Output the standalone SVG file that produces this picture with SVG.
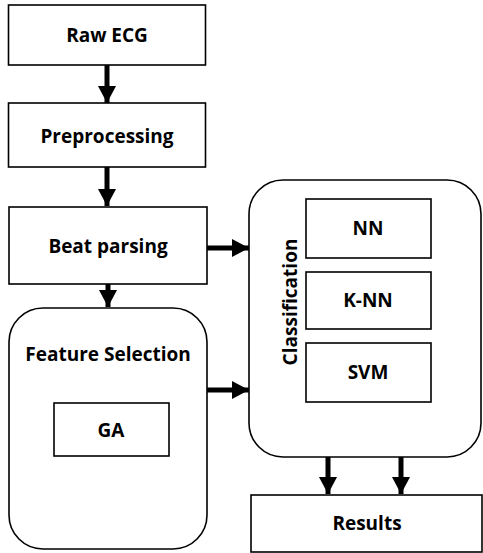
<svg xmlns="http://www.w3.org/2000/svg" width="483" height="553" viewBox="0 0 483 553">
<style>
.box{fill:#fff;stroke:#000;stroke-width:1.6}
.t{font-family:"Open Sans","Liberation Sans",sans-serif;font-weight:bold;font-size:19px;fill:#000;text-anchor:middle;dominant-baseline:central}
.c{stroke:#000;stroke-width:5;fill:none}
</style>
<defs>
<marker id="ah" markerUnits="userSpaceOnUse" markerWidth="18" markerHeight="18" refX="17" refY="9" orient="auto">
<path d="M0,0 L17,9 L0,18 Z" fill="#000"/>
</marker>
</defs>
<rect width="483" height="553" fill="#fff"/>
<g id="raw"><rect class="box" x="8.5" y="5" width="197" height="60"/><text class="t" x="107" y="35">Raw ECG</text></g>
<g id="pre"><rect class="box" x="8.5" y="103" width="197" height="64"/><text class="t" x="107" y="136">Preprocessing</text></g>
<g id="beat"><rect class="box" x="9" y="207" width="198" height="77"/><text class="t" x="108" y="246">Beat parsing</text></g>
<g id="fs"><rect class="box" x="9" y="308" width="198" height="241" rx="34"/><text class="t" x="108" y="354">Feature Selection</text></g>
<g id="ga"><rect class="box" x="54" y="403" width="115" height="53"/><text class="t" x="111" y="430">GA</text></g>
<g id="cls"><rect class="box" x="249" y="180" width="232" height="277" rx="34"/><text class="t" transform="translate(290,302) rotate(-90)">Classification</text></g>
<g id="nn"><rect class="box" x="306" y="199" width="125" height="59"/><text class="t" x="368" y="228">NN</text></g>
<g id="knn"><rect class="box" x="306" y="272" width="125" height="57"/><text class="t" x="368" y="300">K-NN</text></g>
<g id="svm"><rect class="box" x="306" y="343" width="125" height="59"/><text class="t" x="368" y="372">SVM</text></g>
<g id="res"><rect class="box" x="251" y="495" width="231" height="57"/><text class="t" x="367" y="523">Results</text></g>
<g id="connectors">
<line class="c" x1="107" y1="65" x2="107" y2="103" marker-end="url(#ah)"/>
<line class="c" x1="107" y1="167" x2="107" y2="206" marker-end="url(#ah)"/>
<line class="c" x1="108" y1="284" x2="108" y2="307" marker-end="url(#ah)"/>
<line class="c" x1="207" y1="248" x2="249" y2="248" marker-end="url(#ah)"/>
<line class="c" x1="207" y1="390" x2="249" y2="390" marker-end="url(#ah)"/>
<line class="c" x1="328" y1="457" x2="328" y2="494" marker-end="url(#ah)"/>
<line class="c" x1="401" y1="457" x2="401" y2="494" marker-end="url(#ah)"/>
</g>
</svg>
